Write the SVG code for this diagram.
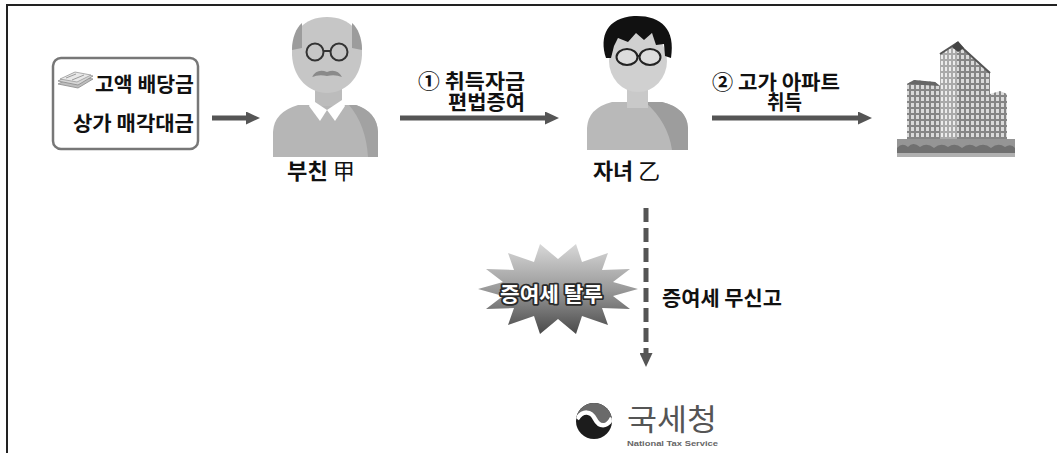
<svg xmlns="http://www.w3.org/2000/svg" width="1057" height="453" viewBox="0 0 1057 453">
  <style>
    .t { font-family: "Noto Sans CJK KR", "Noto Sans", sans-serif; font-weight: 700; font-size: 20.5px; fill: #111; }
    .name { font-size: 21.5px; }
    .hanja { font-weight: 400; }
    .conn { stroke: #555; stroke-width: 5; fill: none; }
    .burst-text { fill: #fff; stroke: #2a2a2a; stroke-width: 3.5; paint-order: stroke; stroke-linejoin: round; }
  </style>
  <defs>
    <marker id="head" viewBox="0 0 14 13" refX="0" refY="6.5" markerWidth="14" markerHeight="13" markerUnits="userSpaceOnUse" orient="auto">
      <path d="M0,0 L14,6.5 L0,13 Z" fill="#555"/>
    </marker>
    <linearGradient id="burstFill" x1="0" y1="0" x2="0" y2="1">
      <stop offset="0" stop-color="#d8d8d8"/>
      <stop offset="0.5" stop-color="#9a9a9a"/>
      <stop offset="1" stop-color="#4a4a4a"/>
    </linearGradient>
    <pattern id="win" width="5" height="6" patternUnits="userSpaceOnUse">
      <rect width="5" height="6" fill="#858585"/>
      <rect x="1" y="1" width="3" height="4" fill="#dadada"/>
    </pattern>
    <pattern id="winSide" width="4" height="6" patternUnits="userSpaceOnUse">
      <rect width="4" height="6" fill="#aaaaaa"/>
      <rect x="1" y="1" width="2" height="4" fill="#ececec"/>
    </pattern>
    <clipPath id="logoClip"><circle cx="594" cy="421" r="18"/></clipPath>
  </defs>

  <!-- frame -->
  <path d="M7,453 L7,5 L1057,5" fill="none" stroke="#222" stroke-width="2"/>

  <!-- source of funds -->
  <g id="funds">
    <rect x="53" y="58" width="145" height="91" rx="8" fill="#fff" stroke="#777" stroke-width="2.5"/>
    <g id="money-icon">
      <path d="M58,84 L74,76 L93,79 L78,88 Z" fill="#bdbdbd" stroke="#8a8a8a" stroke-width="0.8"/>
      <path d="M58,81 L74,73 L93,76 L78,85 Z" fill="#d6d6d6" stroke="#8a8a8a" stroke-width="0.8"/>
      <path d="M60,79 L75,72 L91,75 L77,82 Z" fill="#e8e8e8" stroke="#9a9a9a" stroke-width="0.8"/>
      <path d="M66,78 L76,74 M72,80 L84,75" stroke="#9a9a9a" stroke-width="1"/>
    </g>
    <text class="t" x="95" y="91.5" textLength="99" lengthAdjust="spacingAndGlyphs">고액 배당금</text>
    <text class="t" x="73" y="130.5" textLength="121" lengthAdjust="spacingAndGlyphs">상가 매각대금</text>
  </g>

  <!-- father -->
  <g id="father">
    <path d="M273,157 L273,132 Q274,112 298,105 L356,105 Q377,112 378,132 L378,157 Z" fill="#b6b6b6"/>
    <path d="M349,105 L356,105 Q377,112 378,132 L378,157 L368,157 Q366,125 349,105 Z" fill="#a2a2a2"/>
    <rect x="315" y="82" width="27" height="24" fill="#bcbcbc"/>
    <path d="M312,100 L327,110 L320,121 L309,106 Z" fill="#fff"/>
    <path d="M342,100 L345,106 L335,121 L327,110 Z" fill="#fff"/>
    <path d="M327,17 C350,17 363,32 362,55 C361,78 345,93 327,93 C309,93 293,78 292,55 C291,32 304,17 327,17 Z" fill="#c6c6c6"/>
    <path d="M292,50 C292,38 296,28 302,23 L302,48 Z" fill="#9c9c9c"/>
    <path d="M362,50 C362,38 358,28 352,23 L352,48 Z" fill="#9c9c9c"/>
    <circle cx="315" cy="52" r="8.5" fill="none" stroke="#333" stroke-width="2"/>
    <circle cx="339" cy="52" r="8.5" fill="none" stroke="#333" stroke-width="2"/>
    <path d="M323.5,51 L330.5,51" stroke="#333" stroke-width="2"/>
    <path d="M312,77 Q317,68 327,72 Q337,68 342,77 Q335,74 327,76 Q319,74 312,77 Z" fill="#8a8a8a"/>
    <text class="t name" x="287" y="179" textLength="68" lengthAdjust="spacingAndGlyphs">부친 <tspan class="hanja">甲</tspan></text>
  </g>

  <!-- child -->
  <g id="child">
    <path d="M587,150 L587,128 Q588,108 612,102 L662,102 Q687,108 688,128 L688,150 Z" fill="#b9b9b9"/>
    <path d="M645,102 L662,102 Q687,108 688,128 L688,150 L672,150 Q668,122 645,102 Z" fill="#9d9d9d"/>
    <rect x="627" y="80" width="21" height="28" fill="#c9c9c9"/>
    <ellipse cx="638" cy="61" rx="29" ry="31" fill="#d0d0d0"/>
    <path d="M606,58 C599,36 607,18 634,16 C660,15 676,28 671,58 L665,56 L664,44 L656,45 L652,33 L644,40 L636,33 L628,42 L618,38 L614,46 L611,58 Z" fill="#111"/>
    <ellipse cx="627" cy="57" rx="10.5" ry="8" fill="#dcdcdc" stroke="#222" stroke-width="2"/>
    <ellipse cx="650" cy="57" rx="10.5" ry="8" fill="#dcdcdc" stroke="#222" stroke-width="2"/>
    <path d="M637.5,56 L639.5,56" stroke="#222" stroke-width="2"/>
    <text class="t name" x="593" y="179" textLength="67" lengthAdjust="spacingAndGlyphs">자녀 <tspan class="hanja">乙</tspan></text>
  </g>

  <!-- apartment -->
  <g id="apartment">
    <path d="M907,147 L907,84 L914,80 L935,82 L940,86 L940,147 Z" fill="url(#win)"/>
    <path d="M907,84 L914,80 L935,82 L940,86 Z" fill="#666"/>
    <path d="M990,150 L990,94 L1000,91 L1007,94 L1007,150 Z" fill="url(#win)"/>
    <path d="M940,150 L940,54 L957,43 L957,150 Z" fill="url(#winSide)"/>
    <path d="M957,150 L957,43 L990,73 L990,150 Z" fill="url(#win)"/>
    <path d="M940,54 L957,43 L990,73" fill="none" stroke="#555" stroke-width="2"/>
    <path d="M952,47 L958,41 L964,48 L958,52 Z" fill="#444"/>
    <rect x="897" y="139" width="118" height="18" fill="#959595"/>
    <path d="M897,157 L897,148 Q902,142 908,147 Q913,141 920,147 Q927,142 934,148 Q941,142 948,147 Q955,142 962,148 Q969,142 976,147 Q984,142 991,148 Q998,142 1005,147 Q1011,143 1015,148 L1015,157 Z" fill="#707070"/>
    <rect x="897" y="153" width="118" height="4" fill="#b0b0b0"/>
  </g>

  <!-- gift tax evasion burst -->
  <g id="evasion">
    <polygon fill="url(#burstFill)" points="638,289 613,296 630,309 602,308 608,325 582,316 576,334 558,319 540,334 534,316 508,325 514,308 486,309 503,296 478,289 503,282 486,269 514,270 508,253 534,262 540,244 558,259 576,244 582,262 608,253 602,270 630,269 613,282"/>
    <text class="t burst-text" x="500" y="302" textLength="103" lengthAdjust="spacingAndGlyphs">증여세 탈루</text>
  </g>

  <!-- NTS -->
  <g id="nts">
    <circle cx="594" cy="421" r="18" fill="#1c1c1c"/>
    <path d="M574,421 C578,412 588,410 594,418 C600,426 610,424 614,414 L614,400 L574,400 Z" fill="#6a6a6a" clip-path="url(#logoClip)"/>
    <path d="M577,419 C583,410 591,411 595,419 C599,427 607,428 612,418" fill="none" stroke="#fff" stroke-width="4.5" clip-path="url(#logoClip)"/>
    <text x="627" y="430" font-family="&quot;Noto Sans CJK KR&quot;, sans-serif" font-size="30" font-weight="400" fill="#555" textLength="90" lengthAdjust="spacingAndGlyphs">국세청</text>
    <text x="627" y="446" font-family="&quot;Liberation Sans&quot;, Arial, sans-serif" font-size="7.5" font-weight="700" fill="#666" textLength="91" lengthAdjust="spacingAndGlyphs">National Tax Service</text>
  </g>

  <!-- connectors -->
  <g id="connectors">
    <line class="conn" x1="212" y1="118" x2="246" y2="118" marker-end="url(#head)"/>
    <line class="conn" x1="400" y1="118" x2="545" y2="118" marker-end="url(#head)"/>
    <line class="conn" x1="712" y1="118" x2="858" y2="118" marker-end="url(#head)"/>
    <line class="conn" x1="646" y1="208" x2="646" y2="353" stroke-dasharray="14 6" marker-end="url(#head)"/>
  </g>

  <!-- connector labels -->
  <g id="labels">
    <text class="t" x="418" y="88.5" textLength="107" lengthAdjust="spacingAndGlyphs">① 취득자금</text>
    <text class="t" x="448" y="110" textLength="77" lengthAdjust="spacingAndGlyphs">편법증여</text>
    <text class="t" x="712" y="89.5" textLength="128" lengthAdjust="spacingAndGlyphs">② 고가 아파트</text>
    <text class="t" x="767" y="110" textLength="35" lengthAdjust="spacingAndGlyphs">취득</text>
    <text class="t" x="662" y="306" textLength="120" lengthAdjust="spacingAndGlyphs">증여세 무신고</text>
  </g>
</svg>
